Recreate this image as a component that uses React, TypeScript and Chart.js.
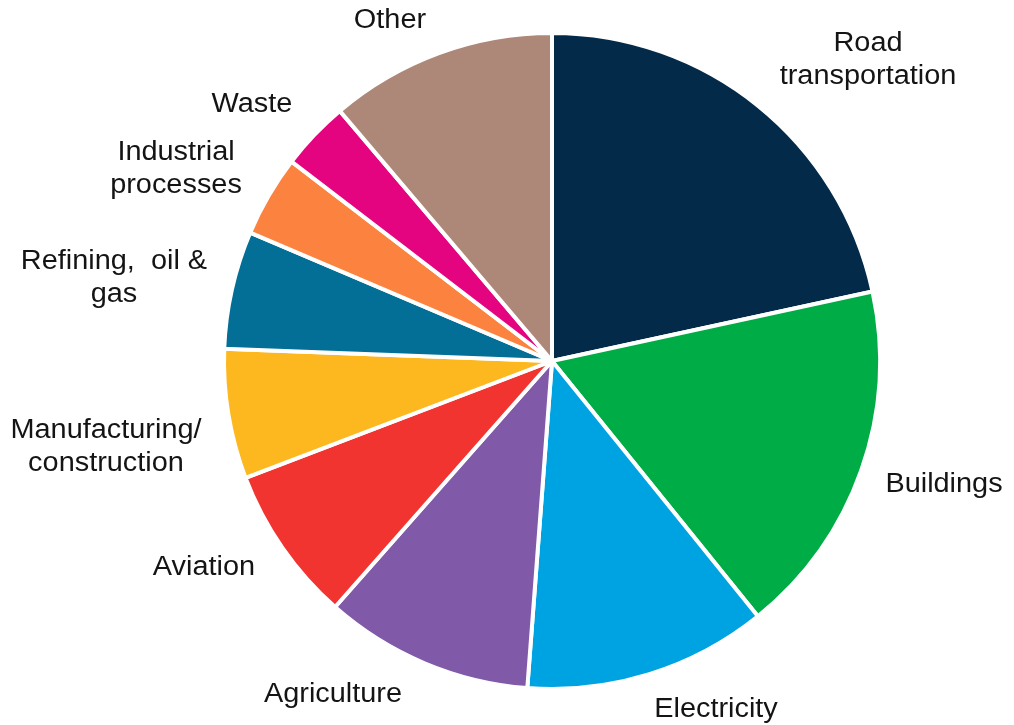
import React, { useEffect, useRef } from "react";
import { Chart, registerables } from "chart.js";

Chart.register(...registerables);

const categories: string[][] = [
  ["Road", "transportation"],
  ["Buildings"],
  ["Electricity"],
  ["Agriculture"],
  ["Aviation"],
  ["Manufacturing/", "construction"],
  ["Refining,  oil &", "gas"],
  ["Industrial", "processes"],
  ["Waste"],
  ["Other"],
];

const shares: number[] = [21.6, 17.6, 12.0, 10.3, 7.7, 6.4, 5.8, 4.0, 3.4, 11.2];

const colors: string[] = [
  "#032A49",
  "#00AC45",
  "#00A3E1",
  "#8159A9",
  "#F23431",
  "#FDB81F",
  "#036F97",
  "#FC833F",
  "#E5047F",
  "#AD8878",
];

// label block centres, as offsets from the pie centre
const labelOffsets: [number, number][] = [
  [316, -301],
  [392, 124],
  [164, 349],
  [-219, 334],
  [-348, 207],
  [-446, 86],
  [-438, -83],
  [-376, -192],
  [-300, -256],
  [-162, -340],
];

const outsideLabels = {
  id: "outsideLabels",
  afterDraw(chart: any) {
    const meta = chart.getDatasetMeta(0);
    const arc = meta.data[0];
    if (!arc) return;
    const cx = arc.x;
    const cy = arc.y;
    const ctx = chart.ctx;
    ctx.save();
    ctx.font = "27px 'Liberation Sans', Arial, sans-serif";
    ctx.fillStyle = "#141414";
    ctx.textAlign = "center";
    ctx.textBaseline = "middle";
    const lh = 33;
    const sx = 1.07;
    categories.forEach((lines, i) => {
      const [dx, dy] = labelOffsets[i];
      const x = cx + dx;
      const y0 = cy + dy - ((lines.length - 1) * lh) / 2;
      lines.forEach((t, j) => {
        ctx.save();
        ctx.translate(x, y0 + j * lh);
        ctx.scale(sx, 1);
        ctx.fillText(t, 0, 0);
        ctx.restore();
      });
    });
    ctx.restore();
  },
};

export default function App() {
  const ref = useRef<HTMLCanvasElement>(null);
  useEffect(() => {
    document.body.style.margin = "0";
    const chart = new Chart(ref.current as HTMLCanvasElement, {
      type: "pie",
      data: {
        labels: categories.map((l) => l.join(" ")),
        datasets: [
          {
            data: shares,
            backgroundColor: colors,
            borderColor: "#ffffff",
            borderWidth: 4,
          },
        ],
      },
      options: {
        responsive: false,
        animation: false,
        radius: 328,
        layout: { padding: { left: 90, right: 0, top: 0, bottom: 3 } },
        plugins: {
          legend: { display: false },
          tooltip: { enabled: false },
        },
      } as any,
      plugins: [outsideLabels],
    });
    return () => chart.destroy();
  }, []);
  return (
    <div style={{ position: "absolute", left: 0, top: 0, width: 1014, height: 725, background: "#fff" }}>
      <canvas ref={ref} width={1014} height={725} />
    </div>
  );
}
